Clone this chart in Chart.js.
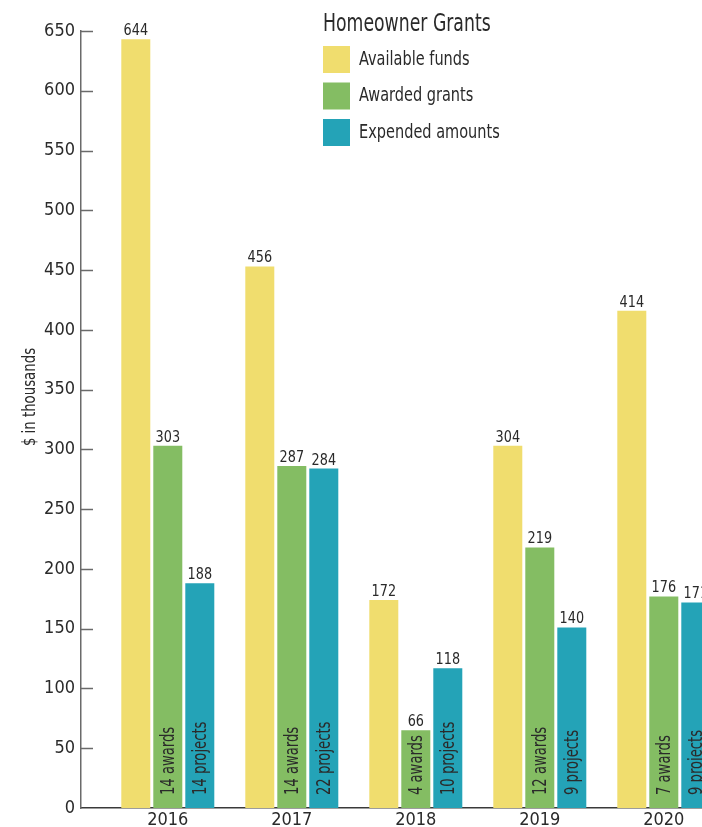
<!DOCTYPE html>
<html>
<head>
<meta charset="utf-8">
<title>Homeowner Grants</title>
<script src="https://cdn.jsdelivr.net/npm/chart.js@4.4.1/dist/chart.umd.min.js"></script>
<style>
    html, body { margin: 0; padding: 0; background: #fff; overflow: hidden; }
    #wrap { width: 702px; height: 827px; overflow: hidden; position: relative; }
    canvas { position: absolute; left: 0; top: 0; }
</style>
</head>
<body>
<div id="wrap"><canvas id="grantsChart" width="763" height="827"></canvas></div>
<script>
const years = ['2016', '2017', '2018', '2019', '2020'];

// bar heights as drawn ($ thousands)
const availableFunds = [643, 453, 174, 303, 416];
const awardedGrants = [303, 286, 65, 218, 177];
const expendedAmounts = [188, 284, 117, 151, 172];

// printed value labels
const availableLabels = ['644', '456', '172', '304', '414'];
const awardedLabels = ['303', '287', '66', '219', '176'];
const expendedLabels = ['188', '284', '118', '140', '171'];

// counts written inside the bars
const awardCounts = ['14 awards', '14 awards', '4 awards', '12 awards', '7 awards'];
const projectCounts = ['14 projects', '22 projects', '10 projects', '9 projects', '9 projects'];

const yTicks = [0, 50, 100, 150, 200, 250, 300, 350, 400, 450, 500, 550, 600, 650];

const FONT = "'Liberation Sans Narrow', 'DejaVu Sans Condensed', 'Open Sans', sans-serif";
const TEXT = '#2a2a2a';

const seriesLabels = ['Available funds', 'Awarded grants', 'Expended amounts'];
const seriesColors = ['#f0dd6e', '#84bd63', '#24a3b7'];

function toPoints(values) {
    return values.map((v, i) => ({ x: i + 1, y: v }));
}

// draw text squeezed horizontally, the original uses a condensed face
function narrowText(ctx, text, x, y, squeeze) {
    ctx.save();
    ctx.translate(x, y);
    ctx.scale(squeeze, 1);
    ctx.fillText(text, 0, 0);
    ctx.restore();
}

// value labels above bars + counts inside bars
const barTextPlugin = {
    id: 'barText',
    afterDatasetsDraw(chart) {
        const ctx = chart.ctx;
        const labelSets = [availableLabels, awardedLabels, expendedLabels];
        const inside = [null, awardCounts, projectCounts];
        ctx.save();
        chart.data.datasets.forEach((ds, di) => {
            const meta = chart.getDatasetMeta(di);
            meta.data.forEach((bar, i) => {
                ctx.fillStyle = TEXT;
                ctx.font = '15px ' + FONT;
                ctx.textAlign = 'center';
                ctx.textBaseline = 'alphabetic';
                narrowText(ctx, labelSets[di][i], bar.x, bar.y - 4, 0.95);

                if (inside[di]) {
                    ctx.save();
                    ctx.translate(bar.x + 1, bar.base - 13);
                    ctx.rotate(-Math.PI / 2);
                    ctx.font = '19px ' + FONT;
                    ctx.textAlign = 'left';
                    ctx.textBaseline = 'middle';
                    narrowText(ctx, inside[di][i], 0, 0, 0.77);
                    ctx.restore();
                }
            });
        });
        ctx.restore();
    }
};

// inward tick marks, y title and the legend block
const decorPlugin = {
    id: 'decor',
    afterDraw(chart) {
        const ctx = chart.ctx;
        const y = chart.scales.y;
        const left = chart.chartArea.left;
        ctx.save();
        ctx.strokeStyle = '#6a6a6a';
        ctx.lineWidth = 1.5;
        yTicks.forEach(t => {
            if (t === 0) return;
            const py = Math.round(y.getPixelForValue(t)) + 0.5;
            ctx.beginPath();
            ctx.moveTo(left, py);
            ctx.lineTo(left + 12, py);
            ctx.stroke();
        });

        // axis title
        ctx.save();
        ctx.translate(31, 397);
        ctx.rotate(-Math.PI / 2);
        ctx.fillStyle = TEXT;
        ctx.font = '17px ' + FONT;
        ctx.textAlign = 'center';
        ctx.textBaseline = 'middle';
        narrowText(ctx, '$ in thousands', 0, 0, 0.87);
        ctx.restore();

        // legend
        ctx.fillStyle = TEXT;
        ctx.font = '24px ' + FONT;
        ctx.textAlign = 'left';
        ctx.textBaseline = 'alphabetic';
        narrowText(ctx, 'Homeowner Grants', 323, 31, 0.8);
        chart.data.datasets.forEach((ds, i) => {
            const by = 46 + i * 36.5;
            ctx.fillStyle = ds.backgroundColor;
            ctx.fillRect(323, by, 27, 27);
            ctx.fillStyle = TEXT;
            ctx.font = '19px ' + FONT;
            ctx.textBaseline = 'middle';
            narrowText(ctx, ds.label, 359, by + 14, 0.85);
        });
        ctx.restore();
    }
};

const datasets = [availableFunds, awardedGrants, expendedAmounts].map((vals, i) => ({
    label: seriesLabels[i],
    data: toPoints(vals),
    backgroundColor: seriesColors[i],
    borderWidth: 0,
    categoryPercentage: 96 / 124,
    barPercentage: 29 / 32
}));

new Chart(document.getElementById('grantsChart'), {
    type: 'bar',
    data: { datasets: datasets },
    plugins: [barTextPlugin, decorPlugin],
    options: {
        responsive: false,
        animation: false,
        layout: { padding: { top: 31, right: 0, left: 0, bottom: 0 } },
        plugins: {
            legend: { display: false },
            tooltip: { enabled: false }
        },
        scales: {
            x: {
                type: 'linear',
                min: 0.3,
                max: 5.8,
                offset: false,
                afterBuildTicks: (scale) => {
                    scale.ticks = years.map((_, i) => ({ value: i + 1 }));
                },
                afterFit: (scale) => { scale.height = 19; },
                grid: { display: false, drawTicks: false },
                border: { display: true, color: '#3a3a3a', width: 1.5 },
                ticks: {
                    padding: 2,
                    color: TEXT,
                    font: { family: FONT, size: 18 },
                    maxRotation: 0,
                    autoSkip: false,
                    callback: (v) => years[v - 1] || ''
                }
            },
            y: {
                min: 0,
                max: 650,
                afterBuildTicks: (scale) => {
                    scale.ticks = yTicks.map(v => ({ value: v }));
                },
                afterFit: (scale) => { scale.width = 81; },
                grid: { display: false, drawTicks: false },
                border: { display: true, color: '#6a6a6a', width: 1.5 },
                ticks: {
                    padding: 6,
                    color: TEXT,
                    font: { family: FONT, size: 18 }
                }
            }
        }
    }
});
</script>
</body>
</html>
